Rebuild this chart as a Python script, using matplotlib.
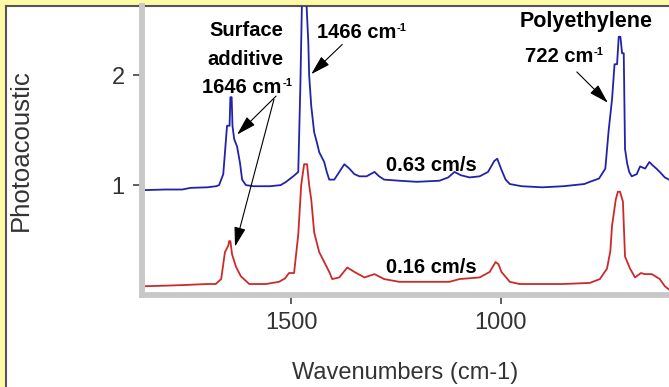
import matplotlib.pyplot as plt
from matplotlib.lines import Line2D
from matplotlib.patches import Rectangle
from matplotlib.ticker import MultipleLocator

plt.rcParams["font.family"] = ["Liberation Sans", "DejaVu Sans"]

# spectra (wavenumber, photoacoustic signal)
blue_wn = [1847, 1800, 1760, 1740, 1700, 1679, 1672, 1662, 1653, 1647, 1645, 1642, 1640,
           1636, 1629, 1622, 1617, 1608, 1590, 1550, 1525, 1512, 1495, 1483, 1478, 1474,
           1464, 1459, 1457, 1452, 1445, 1438, 1433, 1421, 1415, 1409, 1397, 1385, 1373,
           1361, 1349, 1337, 1320, 1301, 1290, 1278, 1242, 1200, 1146, 1125, 1110, 1095,
           1074, 1050, 1030, 1015, 1008, 998, 988, 978, 950, 900, 850, 800, 787, 765, 750,
           742, 734, 728, 722, 718, 714, 710, 706, 703, 698, 693, 687, 675, 667, 655, 645,
           637, 628, 620, 608, 598]
blue_val = [0.955, 0.96, 0.96, 0.975, 0.98, 0.99, 1.0, 1.1, 1.54, 1.54, 1.80, 1.80, 1.54,
            1.42, 1.35, 1.2, 1.05, 1.0, 0.99, 0.99, 1.0, 1.03, 1.08, 1.12, 1.9, 2.7,
            2.7, 2.3, 2.0, 1.72, 1.48, 1.38, 1.30, 1.21, 1.12, 1.05, 1.05, 1.12, 1.19,
            1.15, 1.10, 1.08, 1.08, 1.12, 1.08, 1.05, 1.04, 1.03, 1.04, 1.07, 1.12, 1.09,
            1.07, 1.08, 1.12, 1.22, 1.24, 1.14, 1.05, 1.01, 0.99, 0.98, 0.99, 1.01, 1.03, 1.06, 1.15,
            1.5, 1.78, 2.1, 2.1, 2.35, 2.35, 2.2, 2.2, 1.33, 1.2, 1.12, 1.08, 1.1, 1.17, 1.15, 1.21,
            1.18, 1.15, 1.12, 1.07, 1.05]

red_wn = [1847, 1800, 1760, 1700, 1680, 1667, 1658, 1650, 1648, 1645, 1641, 1632, 1620,
          1600, 1560, 1529, 1515, 1505, 1493, 1483, 1476, 1469, 1462, 1457, 1452, 1445,
          1433, 1421, 1409, 1402, 1385, 1366, 1349, 1325, 1301, 1278, 1242, 1180, 1122,
          1098, 1050, 1026, 1012, 1005, 998, 978, 955, 900, 850, 787, 763, 746, 738, 734,
          725, 720, 715, 708, 703, 691, 679, 665, 656, 645, 639, 620, 608, 598]
red_val = [0.08, 0.085, 0.09, 0.10, 0.10, 0.145, 0.39, 0.45, 0.49, 0.49, 0.37, 0.26, 0.17,
           0.10, 0.10, 0.12, 0.15, 0.2, 0.2, 0.55, 1.0, 1.19, 1.19, 1.0, 0.87, 0.57,
           0.39, 0.30, 0.21, 0.145, 0.16, 0.25, 0.21, 0.16, 0.19, 0.145, 0.12, 0.12, 0.12,
           0.145, 0.16, 0.21, 0.30, 0.28, 0.21, 0.12, 0.10, 0.10, 0.10, 0.11, 0.145, 0.24, 0.40, 0.63,
           0.87, 0.94, 0.94, 0.85, 0.35, 0.24, 0.16, 0.2, 0.19, 0.19, 0.19, 0.145, 0.08, 0.05]

fig = plt.figure(figsize=(6.69, 3.87), dpi=100)
fig.patch.set_facecolor("#FFF9A6")
fig.patches.append(Rectangle((7 / 669, 0), 1, 1 - 6 / 387, transform=fig.transFigure,
                             facecolor="white", edgecolor="none", zorder=-2))
fig.lines.append(Line2D([6.5 / 669, 6.5 / 669], [0, 1 - 5.5 / 387], transform=fig.transFigure,
                        color="#555555", lw=1.5, zorder=-1))
fig.lines.append(Line2D([6.5 / 669, 1], [1 - 5.5 / 387, 1 - 5.5 / 387], transform=fig.transFigure,
                        color="#555555", lw=1.5, zorder=-1))

ax = fig.add_axes([142 / 669, 1 - 295 / 387, 1 - 142 / 669, 289 / 387])
ax.set_zorder(1)
ax.set_facecolor("none")
ax.plot(blue_wn, blue_val, color="#2222AA", lw=1.3)
ax.plot(red_wn, red_val, color="#CC2A2A", lw=1.3)
ax.set_xlim(1856, 598)
ax.set_ylim(0.0, 2.63)

for side in ("top", "right"):
    ax.spines[side].set_visible(False)
for side in ("left", "bottom"):
    ax.spines[side].set_color("#C8C8C8")
    ax.spines[side].set_linewidth(4.2)

ax.xaxis.set_major_locator(MultipleLocator(500))
ax.xaxis.set_minor_locator(MultipleLocator(100))
ax.yaxis.set_minor_locator(MultipleLocator(0.25))
ax.set_yticks([1, 2])
ax.tick_params(which="major", direction="out", length=6.5, width=1.1, color="#333333",
               labelsize=17, labelcolor="#333333", pad=6)
ax.tick_params(which="minor", direction="inout", length=2.5, width=1.1, color="#333333")
ax.set_xlabel("Wavenumbers (cm-1)", fontsize=17, color="#333333", labelpad=20)
ax.set_ylabel("Photoacoustic", fontsize=18.5, color="#333333")
ax.yaxis.set_label_coords(-109 / 527, 0.5)

bold = dict(fontsize=14.5, fontweight="bold", ha="center", va="center")


def wavenumber_label(x, y, main):
    # bold text followed by a small "-1" superscript
    t = ax.text(x, y, main, **bold)
    ax.annotate("-1", xy=(1, 1), xycoords=t, xytext=(0.5, 0), textcoords="offset points",
                fontsize=8, fontweight="bold", ha="left", va="top")


ax.text(1608, 2.41, "Surface", **bold)
ax.text(1608, 2.14, "additive", **bold)
wavenumber_label(1617, 1.89, "1646 cm")
wavenumber_label(1344, 2.39, "1466 cm")
ax.text(797, 2.49, "Polyethylene", fontsize=15.5, fontweight="bold", ha="center", va="center")
wavenumber_label(861, 2.17, "722 cm")
ax.text(1165, 1.18, "0.63 cm/s", **bold)
ax.text(1165, 0.25, "0.16 cm/s", **bold)

arrow = dict(arrowstyle="-|>,head_length=1.2,head_width=0.35", color="black", lw=0.8,
             shrinkA=0, shrinkB=0, mutation_scale=10)
ax.annotate("", xy=(1629, 1.46), xytext=(1536, 1.81), arrowprops=arrow)
ax.annotate("", xy=(1634, 0.44), xytext=(1541, 1.78), arrowprops=arrow)
ax.annotate("", xy=(1452, 2.01), xytext=(1378, 2.28), arrowprops=arrow)
ax.annotate("", xy=(744, 1.75), xytext=(818, 2.03), arrowprops=arrow)

fig.savefig("out.png", dpi=100, facecolor=fig.get_facecolor())
